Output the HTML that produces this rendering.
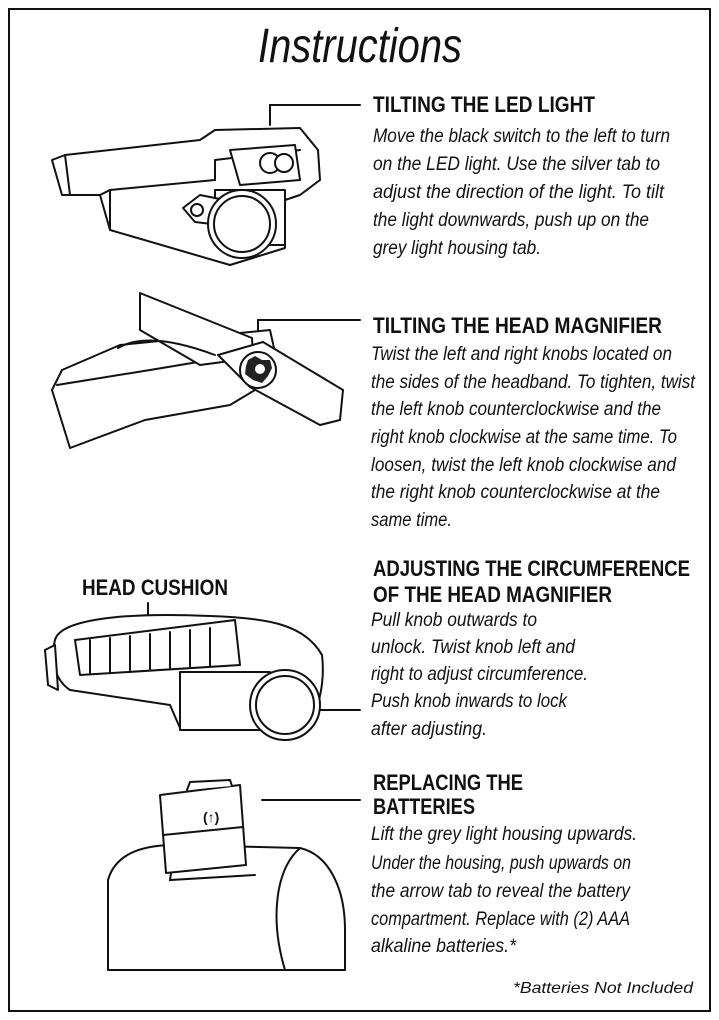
<!DOCTYPE html>
<html><head><meta charset="utf-8"><style>
html,body{margin:0;padding:0;background:#fff;width:719px;height:1020px;overflow:hidden}
svg{display:block}
.h{font-family:"Liberation Sans Narrow","Liberation Sans",sans-serif;font-weight:bold;font-size:22px;fill:#111}
.b{font-family:"Liberation Sans Narrow","Liberation Sans",sans-serif;font-style:italic;font-size:19px;fill:#111}
.d{fill:#fff;stroke:#111;stroke-width:2;stroke-linejoin:round;stroke-linecap:round}
.n{fill:none;stroke:#111;stroke-width:2;stroke-linecap:round}
</style></head><body>
<svg width="719" height="1020" viewBox="0 0 719 1020">
<rect x="9" y="9" width="701" height="1002" fill="none" stroke="#111" stroke-width="2"/>
<text x="258" y="62" class="b" style="font-size:48px" textLength="204" lengthAdjust="spacingAndGlyphs">Instructions</text>

<!-- leaders -->
<path class="n" d="M270 125 V105 H360"/>
<path class="n" d="M258 337 V320 H360"/>
<path class="n" d="M148 603 V628"/>
<path class="n" d="M283 710 H360"/>
<path class="n" d="M262 800 H360"/>

<!-- Illustration 1 -->
<path class="d" d="M52 160 L65 155 L200 140 L215 130 L300 128 L318 150 L320 180 L300 195 L285 200 L285 248 L230 265 L110 230 L100 195 L62 195 Z"/>
<path class="n" d="M65 155 L70 195 M100 195 L110 190 L215 180 L215 160 M110 190 L110 230 M215 160 L300 150"/>
<path class="d" d="M230 150 L295 145 L300 180 L240 185 Z"/>
<circle class="d" cx="270" cy="163" r="10"/><circle class="d" cx="284" cy="163" r="9"/>
<rect class="d" x="215" y="190" width="70" height="55"/>
<path class="d" d="M183 208 L200 195 L225 200 L220 225 L195 222 Z"/>
<circle class="d" cx="197" cy="210" r="6"/>
<circle class="d" cx="242" cy="224" r="34"/>
<circle class="n" cx="242" cy="224" r="28"/>

<!-- Illustration 2 -->
<path class="d" d="M52 390 L62 370 L120 345 L270 330 L280 375 L230 405 L145 420 L70 448 Z"/>
<path class="n" d="M57 385 L150 370 L240 355"/>
<path class="d" d="M140 293 L252 338 L253 358 L200 365 L140 330 Z"/>
<path class="d" d="M218 355 L263 342 L343 390 L340 420 L320 425 L250 387 Z"/>
<path class="n" d="M118 348 C140 335,175 340,215 355"/>
<circle class="d" cx="258" cy="370" r="18"/>
<path d="M248 360 L255 356 L262 360 L270 360 L272 368 L268 376 L262 383 L253 380 L245 374 L246 366 Z" fill="#222"/>
<circle cx="260" cy="369" r="5" fill="#fff"/>

<!-- Illustration 3 -->
<path class="d" d="M55 640 C60 620,120 612,210 616 C270 618,305 625,322 655 C325 680,320 710,305 730 L180 728 L170 705 L70 690 C55 680,50 660,55 640 Z"/>
<path class="d" d="M75 640 L235 620 L240 665 L80 675 Z"/>
<path class="n" d="M90 640 V673 M110 638 V672 M130 636 V670 M150 634 V669 M170 632 V668 M190 630 V667 M210 628 V666"/>
<path class="d" d="M45 650 L55 645 L58 690 L48 685 Z"/>
<rect class="d" x="180" y="672" width="90" height="58"/>
<circle class="d" cx="285" cy="705" r="35"/>
<circle class="n" cx="285" cy="705" r="29"/>

<!-- Illustration 4 -->
<path class="d" d="M108 880 C115 855,140 845,175 845 L300 848 C330 855,345 890,345 930 L345 970 L108 970 Z"/>
<path class="n" d="M300 848 C275 870,270 920,285 970 M175 845 L170 880 L255 875"/>
<path class="d" d="M160 795 L240 785 L246 865 L166 873 Z"/>
<path class="d" d="M187 790 L190 782 L230 780 L232 786"/>
<path class="n" d="M163 835 L243 827"/>
<text x="203" y="822" class="h" style="font-size:14px">(↑)</text>

<!-- Text -->
<text x="373" y="112" class="h" textLength="222" lengthAdjust="spacingAndGlyphs">TILTING THE LED LIGHT</text>
<text x="373" y="142" class="b" textLength="297" lengthAdjust="spacingAndGlyphs">Move the black switch to the left to turn</text>
<text x="373" y="170" class="b" textLength="287" lengthAdjust="spacingAndGlyphs">on the LED light. Use the silver tab to</text>
<text x="373" y="198" class="b" textLength="291" lengthAdjust="spacingAndGlyphs">adjust the direction of the light. To tilt</text>
<text x="373" y="226" class="b" textLength="276" lengthAdjust="spacingAndGlyphs">the light downwards, push up on the</text>
<text x="373" y="254" class="b" textLength="168" lengthAdjust="spacingAndGlyphs">grey light housing tab.</text>

<text x="373" y="333" class="h" textLength="289" lengthAdjust="spacingAndGlyphs">TILTING THE HEAD MAGNIFIER</text>
<text x="371" y="360" class="b" textLength="301" lengthAdjust="spacingAndGlyphs">Twist the left and right knobs located on</text>
<text x="371" y="388" class="b" textLength="324" lengthAdjust="spacingAndGlyphs">the sides of the headband. To tighten, twist</text>
<text x="371" y="415" class="b" textLength="290" lengthAdjust="spacingAndGlyphs">the left knob counterclockwise and the</text>
<text x="371" y="443" class="b" textLength="306" lengthAdjust="spacingAndGlyphs">right knob clockwise at the same time. To</text>
<text x="371" y="471" class="b" textLength="305" lengthAdjust="spacingAndGlyphs">loosen, twist the left knob clockwise and</text>
<text x="371" y="498" class="b" textLength="289" lengthAdjust="spacingAndGlyphs">the right knob counterclockwise at the</text>
<text x="371" y="526" class="b" textLength="81" lengthAdjust="spacingAndGlyphs">same time.</text>

<text x="373" y="576" class="h" textLength="317" lengthAdjust="spacingAndGlyphs">ADJUSTING THE CIRCUMFERENCE</text>
<text x="373" y="602" class="h" textLength="239" lengthAdjust="spacingAndGlyphs">OF THE HEAD MAGNIFIER</text>
<text x="371" y="626" class="b" textLength="166" lengthAdjust="spacingAndGlyphs">Pull knob outwards to</text>
<text x="371" y="653" class="b" textLength="204" lengthAdjust="spacingAndGlyphs">unlock. Twist knob left and</text>
<text x="371" y="680" class="b" textLength="217" lengthAdjust="spacingAndGlyphs">right to adjust circumference.</text>
<text x="371" y="707" class="b" textLength="196" lengthAdjust="spacingAndGlyphs">Push knob inwards to lock</text>
<text x="371" y="735" class="b" textLength="116" lengthAdjust="spacingAndGlyphs">after adjusting.</text>
<text x="82" y="595" class="h" textLength="146" lengthAdjust="spacingAndGlyphs">HEAD CUSHION</text>

<text x="373" y="790" class="h" textLength="150" lengthAdjust="spacingAndGlyphs">REPLACING THE</text>
<text x="373" y="814" class="h" textLength="102" lengthAdjust="spacingAndGlyphs">BATTERIES</text>
<text x="371" y="840" class="b" textLength="266" lengthAdjust="spacingAndGlyphs">Lift the grey light housing upwards.</text>
<text x="371" y="869" class="b" textLength="260" lengthAdjust="spacingAndGlyphs">Under the housing, push upwards on</text>
<text x="371" y="897" class="b" textLength="259" lengthAdjust="spacingAndGlyphs">the arrow tab to reveal the battery</text>
<text x="371" y="925" class="b" textLength="259" lengthAdjust="spacingAndGlyphs">compartment. Replace with (2) AAA</text>
<text x="371" y="952" class="b" textLength="145" lengthAdjust="spacingAndGlyphs">alkaline batteries.*</text>

<text x="513" y="993" class="b" style="font-size:16px" textLength="180" lengthAdjust="spacingAndGlyphs">*Batteries Not Included</text>
</svg>
</body></html>
